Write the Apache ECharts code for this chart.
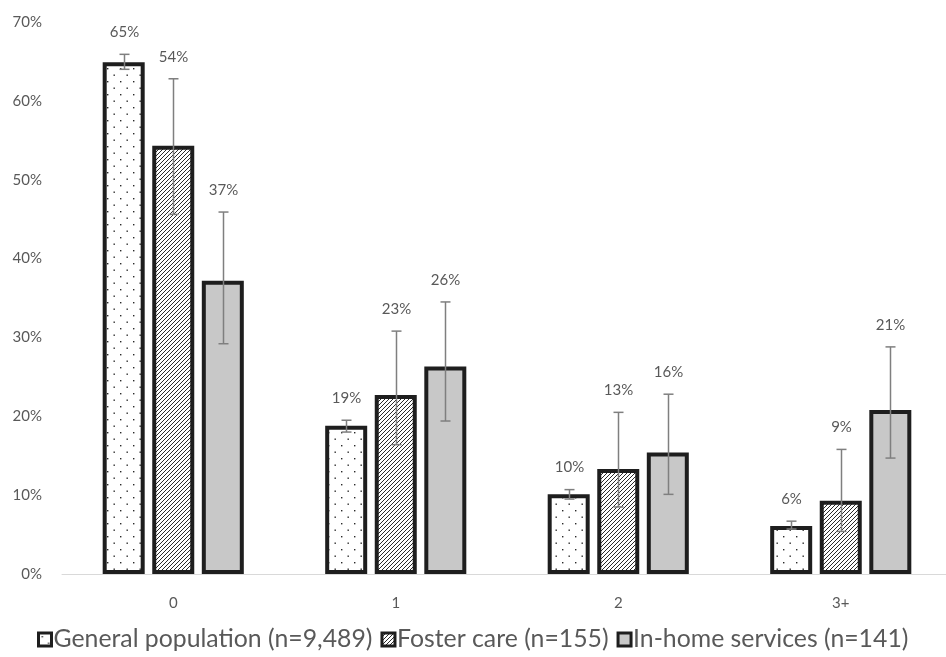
<!DOCTYPE html>
<html>
<head>
<meta charset="utf-8">
<script src="https://cdn.jsdelivr.net/npm/echarts@6/dist/echarts.min.js"></script>
<style>
html,body{margin:0;padding:0;background:#fff;overflow:hidden;width:946px;height:657px;}
#chart{width:952px;height:657px;}
</style>
</head>
<body>
<div id="chart"></div>
<script>
// ---- data ----
var categories = ['0', '1', '2', '3+'];
var seriesNames = ['General population (n=9,489)', 'Foster care (n=155)', 'In-home services (n=141)'];
var genPop    = [64.9, 18.8, 10.1, 6.1];
var fosterCare = [54.3, 22.7, 13.3, 9.3];
var inHome    = [37.2, 26.3, 15.4, 20.8];
var genLow    = [64.0, 18.0, 9.5, 5.7];
var genHigh   = [65.9, 19.5, 10.7, 6.7];
var fosterLow  = [45.6, 16.4, 8.5, 5.4];
var fosterHigh = [62.8, 30.8, 20.5, 15.8];
var inHomeLow  = [29.2, 19.4, 10.1, 14.7];
var inHomeHigh = [45.9, 34.5, 22.8, 28.8];
var genLabels    = ['65%', '19%', '10%', '6%'];
var fosterLabels = ['54%', '23%', '13%', '9%'];
var inHomeLabels = ['37%', '26%', '16%', '21%'];
var yTicks = [0, 10, 20, 30, 40, 50, 60, 70];

// ---- patterns ----
function dotPattern() {
  var c = document.createElement('canvas');
  c.width = 13; c.height = 13;
  var g = c.getContext('2d');
  g.fillStyle = '#fff'; g.fillRect(0, 0, 13, 13);
  g.fillStyle = '#2a2a2a';
  g.fillRect(3, 3, 1.4, 1.4);
  g.fillRect(9.5, 9.5, 1.4, 1.4);
  return c;
}
function hatchPattern() {
  var c = document.createElement('canvas');
  c.width = 4; c.height = 4;
  var g = c.getContext('2d');
  g.fillStyle = '#fff'; g.fillRect(0, 0, 4, 4);
  g.strokeStyle = '#2a2a2a'; g.lineWidth = 1;
  g.beginPath();
  g.moveTo(-1, 1); g.lineTo(1, -1);
  g.moveTo(0, 4); g.lineTo(4, 0);
  g.moveTo(3, 5); g.lineTo(5, 3);
  g.stroke();
  return c;
}
var fills = [
  {image: dotPattern(), repeat: 'repeat'},
  {image: hatchPattern(), repeat: 'repeat'},
  '#c8c8c8'
];

var BAR_W = 42, BAR_GAP = 0.18;
var step = BAR_W * (1 + BAR_GAP);
var values = [genPop, fosterCare, inHome];
var lows = [genLow, fosterLow, inHomeLow];
var highs = [genHigh, fosterHigh, inHomeHigh];
var labels = [genLabels, fosterLabels, inHomeLabels];

var series = [];
for (var s = 0; s < 3; s++) {
  series.push({
    name: seriesNames[s],
    type: 'bar',
    data: values[s],
    barWidth: BAR_W,
    barGap: (BAR_GAP * 100) + '%',
    itemStyle: {color: fills[s], borderColor: '#1e1e1e', borderWidth: 4},
    emphasis: {disabled: true},
    z: 2
  });
}
for (var s2 = 0; s2 < 3; s2++) {
  (function (si) {
    var d = [];
    for (var i = 0; i < categories.length; i++) d.push([i, lows[si][i], highs[si][i], labels[si][i]]);
    series.push({
      name: 'err' + si,
      type: 'custom',
      data: d,
      z: 5,
      silent: true,
      encode: {x: 0, y: [1, 2]},
      renderItem: function (params, api) {
        var off = (si - 1) * step;
        var lo = api.coord([api.value(0), api.value(1)]);
        var hi = api.coord([api.value(0), api.value(2)]);
        var x = Math.round(lo[0] + off) + 0.5;
        var cap = 5;
        var st = {stroke: '#7f7f7f', lineWidth: 1.5};
        return {
          type: 'group',
          children: [
            {type: 'line', shape: {x1: x, y1: lo[1], x2: x, y2: hi[1]}, style: st},
            {type: 'line', shape: {x1: x - cap, y1: lo[1], x2: x + cap, y2: lo[1]}, style: st},
            {type: 'line', shape: {x1: x - cap, y1: hi[1], x2: x + cap, y2: hi[1]}, style: st},
            {type: 'text', x: x, y: hi[1] - 22, style: {
              text: labels[si][params.dataIndex], fill: '#595959',
              font: '15px Lato, "Open Sans", sans-serif', align: 'center', verticalAlign: 'middle'}}
          ]
        };
      }
    });
  })(s2);
}

var chart = echarts.init(document.getElementById('chart'), null, {renderer: 'canvas', width: 952, height: 657});
chart.setOption({
  animation: false,
  backgroundColor: '#fff',
  textStyle: {fontFamily: 'Lato, "Open Sans", sans-serif'},
  grid: {left: 62, top: 22, right: 0, bottom: 83, containLabel: false},
  legend: {
    data: seriesNames,
    bottom: 0,
    left: 471,
    width: 940,
    orient: 'horizontal',
    icon: 'rect',
    itemWidth: 13,
    itemHeight: 13,
    itemGap: 8,
    itemStyle: {borderWidth: 3},
    textStyle: {color: '#595959', fontSize: 24.8, padding: [0, 0, 0, -3]}
  },
  xAxis: {
    type: 'category',
    data: categories,
    axisLine: {lineStyle: {color: '#d9d9d9', width: 1}},
    axisTick: {show: false},
    axisLabel: {color: '#595959', fontSize: 15, margin: 22}
  },
  yAxis: {
    type: 'value',
    min: yTicks[0],
    max: yTicks[yTicks.length - 1],
    interval: 10,
    axisLine: {show: false},
    axisTick: {show: false},
    splitLine: {show: false},
    axisLabel: {color: '#595959', fontSize: 15, margin: 20, formatter: '{value}%'}
  },
  series: series
});
// center the legend on the visible 946px window
(function () {
  var lg = chart.getModel().getComponent('legend');
  var view = chart.getViewOfComponentModel ? chart.getViewOfComponentModel(lg) : null;
  var w = view && view.group ? view.group.getBoundingRect().width : 0;
  if (w) chart.setOption({legend: {left: Math.round((946 - w) / 2)}});
})();
</script>
</body>
</html>
